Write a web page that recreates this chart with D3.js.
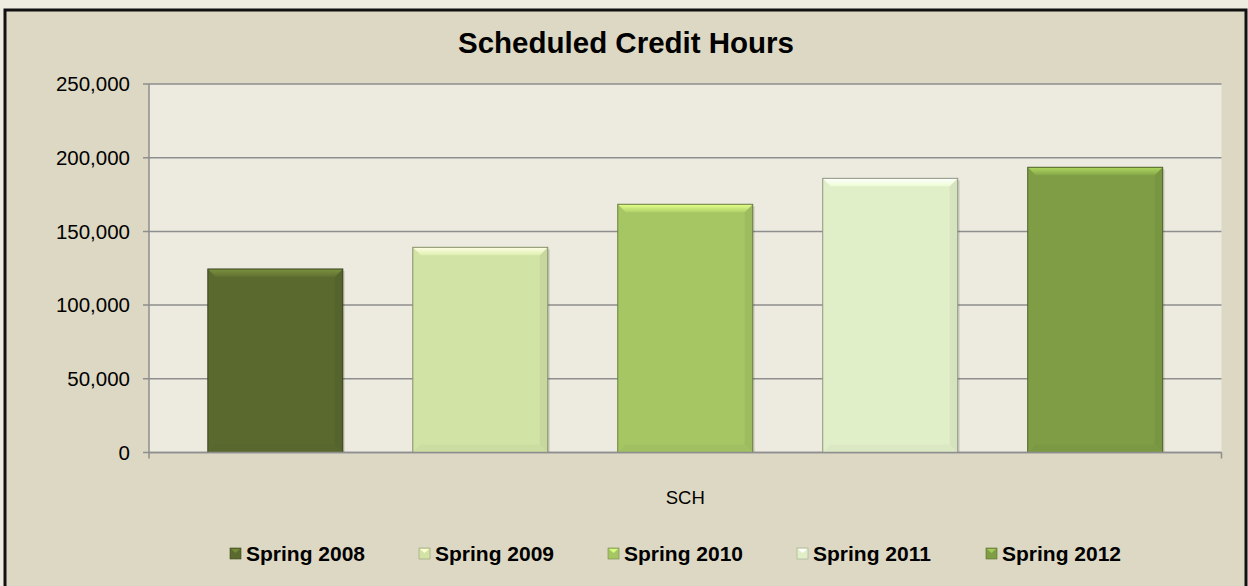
<!DOCTYPE html>
<html lang="en">
    <head>
        <meta charset="UTF-8" />
        <title>Scheduled Credit Hours</title>
        <style>
            body {
                margin: 0;
                background: #eeebe1;
            }
            text {
                font-family: 'Liberation Sans', Arial, sans-serif;
                fill: #000;
            }
            .grid line {
                stroke: #8e8e8e;
                stroke-width: 1.5px;
            }
        </style>
    </head>
    <body>
        <svg width="1248" height="586"></svg>
        <script src="https://d3js.org/d3.v7.min.js"></script>
        <script>
            const categories = ['SCH'];
            const seriesNames = ['Spring 2008', 'Spring 2009', 'Spring 2010', 'Spring 2011', 'Spring 2012'];
            const seriesValues = [124500, 139200, 168400, 186000, 193500];
            const yTicks = [0, 50000, 100000, 150000, 200000, 250000];
            const colors = ['#5a6a2e', '#d2e3a6', '#a6c664', '#e1efc9', '#7f9d45'];

            const svg = d3.select('svg');
            const margin = { left: 149, right: 1221.5, top: 84, bottom: 452.5 };

            // chart area with the thick black frame
            svg.append('rect')
                .attr('x', 5)
                .attr('y', 10)
                .attr('width', 1241)
                .attr('height', 600)
                .attr('fill', '#ddd8c3')
                .attr('stroke', '#111')
                .attr('stroke-width', 3);

            svg.append('text')
                .attr('x', 626)
                .attr('y', 53)
                .attr('text-anchor', 'middle')
                .style('font-size', '29.5px')
                .style('font-weight', 'bold')
                .text('Scheduled Credit Hours');

            const y = d3.scaleLinear().domain([0, 250000]).range([margin.bottom, margin.top]);
            const x0 = d3.scaleBand().domain(categories).range([margin.left, margin.right]);
            const x1 = d3.scaleBand().domain(seriesNames).range([0, x0.bandwidth()]).paddingInner(0.3415).paddingOuter(0.287);

            // plot area
            svg.append('rect')
                .attr('x', margin.left)
                .attr('y', margin.top)
                .attr('width', margin.right - margin.left)
                .attr('height', margin.bottom - margin.top)
                .attr('fill', '#edeae0');

            const grid = svg.append('g').attr('class', 'grid');
            grid.selectAll('line')
                .data(yTicks)
                .join('line')
                .attr('x1', margin.left - 6)
                .attr('x2', margin.right)
                .attr('y1', (d) => y(d))
                .attr('y2', (d) => y(d));

            const fmt = d3.format(',');
            svg.append('g')
                .selectAll('text')
                .data(yTicks)
                .join('text')
                .attr('x', 130)
                .attr('y', (d) => y(d))
                .attr('dy', '0.35em')
                .attr('text-anchor', 'end')
                .style('font-size', '20.5px')
                .text((d) => fmt(d));

            // axes lines
            svg.append('line')
                .attr('x1', margin.left)
                .attr('x2', margin.left)
                .attr('y1', margin.top)
                .attr('y2', margin.bottom + 6)
                .attr('stroke', '#8e8e8e')
                .attr('stroke-width', 1.5);
            svg.append('line')
                .attr('x1', margin.right)
                .attr('x2', margin.right)
                .attr('y1', margin.bottom)
                .attr('y2', margin.bottom + 6)
                .attr('stroke', '#8e8e8e')
                .attr('stroke-width', 1.5);

            // gradient for the top bevel
            const defs = svg.append('defs');
            colors.forEach((col, i) => {
                const grad = defs.append('linearGradient').attr('id', 'top' + i).attr('x1', 0).attr('y1', 0).attr('x2', 0).attr('y2', 1);
                grad.append('stop').attr('offset', '0%').attr('stop-color', d3.color(col).brighter(0.9));
                grad.append('stop').attr('offset', '100%').attr('stop-color', d3.color(col).brighter(0.15));
            });

            // bars with a bevel look
            const bevel = 8;
            const bars = svg
                .append('g')
                .selectAll('g')
                .data(seriesNames.map((s, i) => ({ name: s, value: seriesValues[i], color: colors[i], i: i })))
                .join('g')
                .attr('transform', (d) => `translate(${x0('SCH') + x1(d.name)},${y(d.value)})`);

            bars.each(function (d) {
                const g = d3.select(this);
                const w = x1.bandwidth();
                const h = y(0) - y(d.value);
                const c = d3.color(d.color);
                g.append('rect').attr('x', 2).attr('y', 2).attr('width', w).attr('height', h - 2).attr('fill', '#000').attr('opacity', 0.12);
                g.append('rect').attr('width', w).attr('height', h).attr('fill', d.color);
                g.append('polygon')
                    .attr('points', `${w},0 ${w},${h} ${w - bevel},${h - bevel} ${w - bevel},${bevel}`)
                    .attr('fill', c.darker(0.15));
                g.append('polygon')
                    .attr('points', `0,${h} ${w},${h} ${w - bevel},${h - bevel} ${bevel},${h - bevel}`)
                    .attr('fill', c.darker(0.08));
                g.append('polygon')
                    .attr('points', `0,0 ${w},0 ${w - bevel},${bevel} ${bevel},${bevel}`)
                    .attr('fill', `url(#top${d.i})`);
                g.append('rect')
                    .attr('width', w)
                    .attr('height', h)
                    .attr('fill', 'none')
                    .attr('stroke', c.darker(1.3))
                    .attr('stroke-width', 1);
            });

            // bottom axis drawn over bars
            svg.append('line')
                .attr('x1', margin.left)
                .attr('x2', margin.right)
                .attr('y1', margin.bottom)
                .attr('y2', margin.bottom)
                .attr('stroke', '#8e8e8e')
                .attr('stroke-width', 1.5);

            svg.append('text')
                .attr('x', x0('SCH') + x0.bandwidth() / 2)
                .attr('y', 504)
                .attr('text-anchor', 'middle')
                .style('font-size', '18.5px')
                .text(categories[0]);

            // legend
            const legend = svg
                .append('g')
                .selectAll('g')
                .data(seriesNames)
                .join('g')
                .attr('transform', (d, i) => `translate(${230 + i * 189},548)`);

            legend.append('rect').attr('width', 11).attr('height', 11).attr('fill', (d, i) => colors[i]).attr('stroke', (d, i) => d3.color(colors[i]).darker(1)).attr('stroke-width', 0.6);
            legend.append('polygon').attr('points', '1,1 10,1 5.5,5').attr('fill', (d, i) => d3.color(colors[i]).brighter(0.7));
            legend.append('text')
                .attr('x', 16)
                .attr('y', 12.5)
                .style('font-size', '21px')
                .style('font-weight', 'bold')
                .text((d) => d);
        </script>
    </body>
</html>
